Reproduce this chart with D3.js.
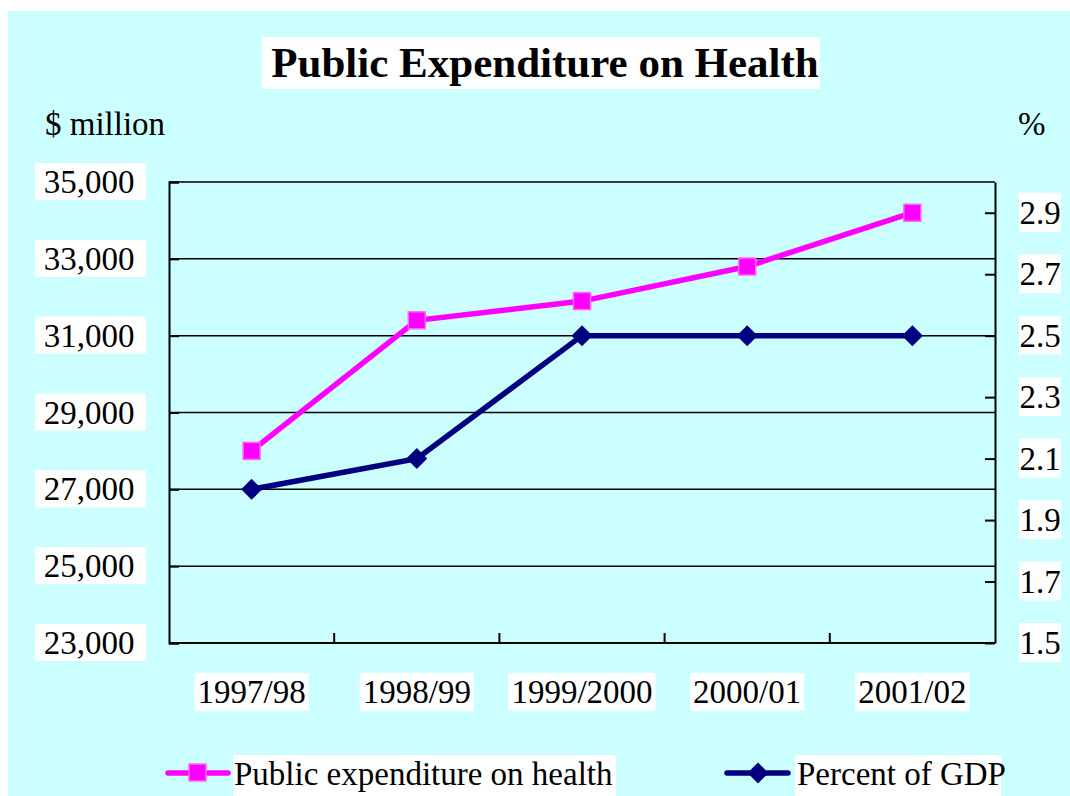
<!DOCTYPE html>
<html>
<head>
<meta charset="utf-8">
<script src="https://cdn.jsdelivr.net/npm/d3@7"></script>
<style>
  body { margin: 0; background: #fff; }
  text { font-family: "Liberation Serif", "Times New Roman", serif; fill: #000; }
</style>
</head>
<body>
<script>
// data
var years = ["1997/98", "1998/99", "1999/2000", "2000/01", "2001/02"];
var expenditure = [28000, 31400, 31900, 32800, 34200];   // $ million
var pctGDP = [2.0, 2.1, 2.5, 2.5, 2.5];                  // %
var leftTicks = [23000, 25000, 27000, 29000, 31000, 33000, 35000];
var rightTicks = [1.5, 1.7, 1.9, 2.1, 2.3, 2.5, 2.7, 2.9];

var W = 1070, H = 796;
var bg = "#ccffff";
var pink = "#ff00ff", navy = "#000080";
var fs = "33px";

var svg = d3.select("body").append("svg")
  .attr("width", W)
  .attr("height", H);

svg.append("rect")
  .attr("x", 8).attr("y", 11)
  .attr("width", W - 8).attr("height", H - 11)
  .style("fill", bg);

var plot = { left: 169, right: 995, top: 182, bottom: 643 };

var x = d3.scaleBand().domain(years).range([plot.left, plot.right]).padding(0);
var yL = d3.scaleLinear().domain([23000, 35000]).range([plot.bottom, plot.top]);
var yR = d3.scaleLinear().domain([1.5, 3.0]).range([plot.bottom, plot.top]);

// title
var titleG = svg.append("g");
titleG.append("rect").attr("x", 262).attr("y", 37).attr("width", 558).attr("height", 52).style("fill", "#fff");
titleG.append("text")
  .attr("x", 545).attr("y", 77)
  .attr("text-anchor", "middle")
  .style("font-size", "43px").style("font-weight", "bold")
  .text("Public Expenditure on Health");

svg.append("text").attr("x", 45).attr("y", 135).style("font-size", fs).text("$ million");
svg.append("text").attr("x", 1018).attr("y", 135).style("font-size", fs).text("%");

// gridlines
svg.selectAll("line.grid")
  .data(leftTicks.slice(1))
  .enter().append("line")
  .attr("class", "grid")
  .attr("x1", plot.left).attr("x2", plot.right)
  .attr("y1", function (d) { return yL(d); })
  .attr("y2", function (d) { return yL(d); })
  .style("stroke", "#000").style("stroke-width", 1.5);

// axes (ticks point inward)
svg.append("g")
  .attr("transform", "translate(" + plot.left + ",0)")
  .call(d3.axisLeft(yL).tickValues(leftTicks).tickSize(-10).tickFormat(""))
  .call(function (g) { g.selectAll("line, path").style("stroke", "#000").style("stroke-width", 2); });

svg.append("g")
  .attr("transform", "translate(" + plot.right + ",0)")
  .call(d3.axisRight(yR).tickValues(rightTicks).tickSize(-10).tickFormat("").tickSizeOuter(0))
  .call(function (g) { g.selectAll("line, path").style("stroke", "#000").style("stroke-width", 2); });

var xTickPos = years.slice(1).map(function (d) { return x(d); });
svg.append("line")
  .attr("x1", plot.left).attr("x2", plot.right)
  .attr("y1", plot.bottom).attr("y2", plot.bottom)
  .style("stroke", "#000").style("stroke-width", 2);
svg.selectAll("line.xtick")
  .data(xTickPos)
  .enter().append("line")
  .attr("class", "xtick")
  .attr("x1", function (d) { return d; }).attr("x2", function (d) { return d; })
  .attr("y1", plot.bottom).attr("y2", plot.bottom - 10)
  .style("stroke", "#000").style("stroke-width", 2);

// left labels with white boxes
var lLab = svg.selectAll("g.llab").data(leftTicks).enter().append("g")
  .attr("class", "llab")
  .attr("transform", function (d) { return "translate(0," + yL(d) + ")"; });
lLab.append("rect").attr("x", 35).attr("y", -19).attr("width", 111).attr("height", 37).style("fill", "#fff");
lLab.append("text").attr("x", 89).attr("y", 11).attr("text-anchor", "middle")
  .style("font-size", fs)
  .text(function (d) { return d3.format(",")(d); });

// right labels
var rLab = svg.selectAll("g.rlab").data(rightTicks).enter().append("g")
  .attr("class", "rlab")
  .attr("transform", function (d) { return "translate(0," + yR(d) + ")"; });
rLab.append("rect").attr("x", 1019).attr("y", -20).attr("width", 42).attr("height", 39).style("fill", "#fff");
rLab.append("text").attr("x", 1040).attr("y", 11).attr("text-anchor", "middle")
  .style("font-size", fs)
  .text(function (d) { return d3.format(".1f")(d); });

// x labels
var xLab = svg.selectAll("g.xlab").data(years).enter().append("g")
  .attr("class", "xlab")
  .attr("transform", function (d) { return "translate(" + (x(d) + x.bandwidth() / 2) + ",0)"; });
xLab.each(function (d) {
  var g = d3.select(this);
  var t = g.append("text").attr("x", 0).attr("y", 703).attr("text-anchor", "middle")
    .style("font-size", fs).text(d);
  var w = t.node().getComputedTextLength();
  g.insert("rect", "text").attr("x", -w / 2 - 3).attr("y", 673).attr("width", w + 6).attr("height", 38).style("fill", "#fff");
});

// lines
var cx = function (d, i) { return x(years[i]) + x.bandwidth() / 2; };

svg.append("path")
  .datum(expenditure)
  .attr("d", d3.line().x(cx).y(function (d) { return yL(d); }))
  .style("fill", "none").style("stroke", pink).style("stroke-width", 5.5);

svg.append("path")
  .datum(pctGDP)
  .attr("d", d3.line().x(cx).y(function (d) { return yR(d); }))
  .style("fill", "none").style("stroke", navy).style("stroke-width", 5.5);

svg.selectAll("rect.sq")
  .data(expenditure)
  .enter().append("rect")
  .attr("class", "sq")
  .attr("x", function (d, i) { return cx(d, i) - 8.5; })
  .attr("y", function (d) { return yL(d) - 8.5; })
  .attr("width", 17).attr("height", 17)
  .style("fill", pink).style("stroke", "#ff66ff").style("stroke-width", 1.5);

var diamond = d3.symbol().type(d3.symbolDiamond2).size(280);
svg.selectAll("path.dia")
  .data(pctGDP)
  .enter().append("path")
  .attr("class", "dia")
  .attr("transform", function (d, i) { return "translate(" + cx(d, i) + "," + yR(d) + ")"; })
  .attr("d", diamond)
  .style("fill", navy);

// legend
var leg1 = svg.append("g");
leg1.append("line").attr("x1", 168).attr("x2", 228).attr("y1", 773).attr("y2", 773)
  .style("stroke", pink).style("stroke-width", 5.5).style("stroke-linecap", "round");
leg1.append("rect").attr("x", 189).attr("y", 764).attr("width", 17).attr("height", 17)
  .style("fill", pink).style("stroke", "#ff66ff").style("stroke-width", 1.5);
leg1.append("rect").attr("x", 233).attr("y", 755).attr("width", 383).attr("height", 41).style("fill", "#fff");
leg1.append("text").attr("x", 234).attr("y", 785).style("font-size", fs).text("Public expenditure on health");

var leg2 = svg.append("g");
leg2.append("line").attr("x1", 727).attr("x2", 788).attr("y1", 773).attr("y2", 773)
  .style("stroke", navy).style("stroke-width", 5.5).style("stroke-linecap", "round");
leg2.append("path").attr("transform", "translate(758,773)").attr("d", diamond).style("fill", navy);
leg2.append("rect").attr("x", 795).attr("y", 755).attr("width", 206).attr("height", 41).style("fill", "#fff");
leg2.append("text").attr("x", 797).attr("y", 785).style("font-size", fs).text("Percent of GDP");
</script>
</body>
</html>
